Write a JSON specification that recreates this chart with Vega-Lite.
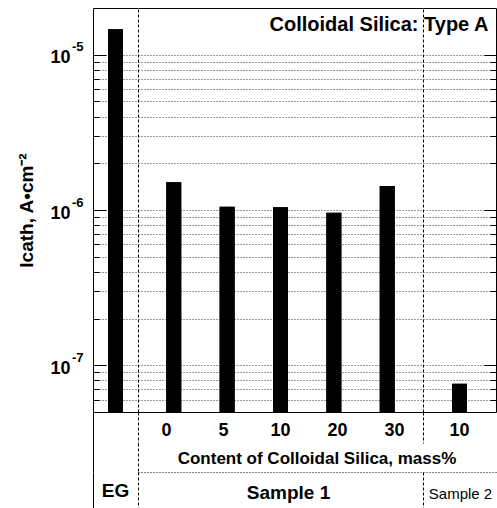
{
  "$schema": "https://vega.github.io/schema/vega-lite/v6.json",
  "padding": {"left": 17, "top": 8, "right": 1, "bottom": 0},
  "config": {
    "view": {"stroke": null},
    "font": "Liberation Sans",
    "text": {"font": "Liberation Sans"},
    "axis": {"labelFont": "Liberation Sans", "titleFont": "Liberation Sans", "minExtent": 0},
    "title": {"font": "Liberation Sans"}
  },
  "datasets": {
    "bars": [
      {"group": "EG", "content": "", "value": 1.46e-5},
      {"group": "Sample 1", "content": "0", "value": 1.51e-6},
      {"group": "Sample 1", "content": "5", "value": 1.05e-6},
      {"group": "Sample 1", "content": "10", "value": 1.04e-6},
      {"group": "Sample 1", "content": "20", "value": 0.96e-6},
      {"group": "Sample 1", "content": "30", "value": 1.43e-6},
      {"group": "Sample 2", "content": "10", "value": 7.6e-8}
    ],
    "labels": [
      {"cell": "EG", "text": "EG"},
      {"cell": "Sample 1", "text": "Sample 1"},
      {"cell": "Sample 2", "text": "Sample 2"},
      {"cell": "content", "text": "Content of Colloidal Silica, mass%"}
    ]
  },
  "hconcat": [
    {
      "vconcat": [
        {
          "width": 45,
          "height": 404,
          "data": {"name": "bars"},
          "transform": [{"filter": "datum.group === 'EG'"}],
          "layer": [
            {
              "mark": {"type": "bar", "color": "black", "width": 15},
              "encoding": {
                "x": {"field": "content", "type": "nominal", "sort": null,
                  "axis": {"orient": "bottom", "labels": false, "ticks": false, "title": null, "domainColor": "black", "grid": false}},
                "y": {"field": "value", "type": "quantitative",
                  "scale": {"type": "log", "domain": [5e-8, 2e-5], "nice": false},
                  "axis": {
                    "orient": "left",
                    "values": [6e-8, 7e-8, 8e-8, 9e-8, 1e-7, 2e-7, 3e-7, 4e-7, 5e-7, 6e-7, 7e-7, 8e-7, 9e-7, 1e-6, 2e-6, 3e-6, 4e-6, 5e-6, 6e-6, 7e-6, 8e-6, 9e-6, 1e-5],
                    "labelExpr": "abs(log(datum.value)/LN10 - round(log(datum.value)/LN10)) < 0.01 ? '10' : ''",
                    "labelOverlap": false,
                    "labelFontSize": 18,
                    "labelFontWeight": "bold",
                    "labelColor": "black",
                    "labelPadding": 36,
                    "labelOffset": 3,
                    "tickColor": "black",
                    "tickSize": {"condition": {"test": "abs(log(datum.value)/LN10 - round(log(datum.value)/LN10)) < 0.01", "value": -13}, "value": -6},
                    "domainColor": "black",
                    "grid": true,
                    "gridColor": "black",
                    "gridDash": [1, 2],
                    "gridOpacity": 0.8,
                    "title": "Icath, A•cm⁻²",
                    "titleFontSize": 19,
                    "titleFontWeight": "bold",
                    "titleColor": "black",
                    "titlePadding": 13
                  }},
                "y2": {"datum": 5e-8}
              }
            },
            {
              "mark": {"type": "bar", "color": "black", "width": 15},
              "encoding": {
                "x": {"field": "content", "type": "nominal", "sort": null,
                  "axis": {"orient": "top", "labels": false, "ticks": false, "title": null, "domainColor": "black", "grid": false}},
                "y": {"field": "value", "type": "quantitative",
                  "axis": {
                    "orient": "left",
                    "values": [1e-7, 1e-6, 1e-5],
                    "labelExpr": "'-' + (-round(log(datum.value)/LN10))",
                    "labelOverlap": false,
                    "labelFontSize": 13,
                    "labelFontWeight": "bold",
                    "labelColor": "black",
                    "labelPadding": 10,
                    "labelOffset": -8,
                    "ticks": false,
                    "domain": false,
                    "grid": false,
                    "title": null
                  }},
                "y2": {"datum": 5e-8}
              }
            }
          ],
          "resolve": {"axis": {"x": "independent", "y": "independent"}}
        },
        {
          "width": 45,
          "height": 60,
          "data": {"name": "bars"},
          "transform": [{"filter": "datum.group === 'EG'"}],
          "mark": {"type": "text", "fontSize": 18, "fontWeight": "bold", "color": "black"},
          "encoding": {
            "text": {"field": "content"},
            "y": {"field": "group", "type": "nominal",
              "axis": {"orient": "left", "labels": false, "ticks": false, "title": null, "domainColor": "black", "grid": false}}
          }
        },
        {
          "width": 45,
          "height": 36,
          "data": {"name": "labels"},
          "transform": [{"filter": "datum.cell === 'EG'"}],
          "mark": {"type": "text", "fontSize": 19, "fontWeight": "bold", "color": "black", "dy": 1},
          "encoding": {
            "text": {"field": "text"},
            "y": {"field": "text", "type": "nominal",
              "axis": {"orient": "left", "labels": false, "ticks": false, "title": null, "domainColor": "black", "grid": false}}
          }
        }
      ],
      "spacing": 0,
      "bounds": "flush"
    },
    {
      "vconcat": [
        {
          "hconcat": [
            {
              "width": 285,
              "height": 404,
              "data": {"name": "bars"},
              "transform": [{"filter": "datum.group === 'Sample 1'"}],
              "layer": [
                {
                  "mark": {"type": "bar", "color": "black", "width": 15},
                  "encoding": {
                    "x": {"field": "content", "type": "nominal", "sort": null,
                      "scale": {"paddingInner": 0.5, "paddingOuter": 0.42},
                      "axis": {"orient": "bottom", "labels": false, "ticks": false, "title": null, "domainColor": "black", "grid": false}},
                    "y": {"field": "value", "type": "quantitative",
                      "scale": {"type": "log", "domain": [5e-8, 2e-5], "nice": false},
                      "axis": {
                        "orient": "left",
                        "values": [6e-8, 7e-8, 8e-8, 9e-8, 1e-7, 2e-7, 3e-7, 4e-7, 5e-7, 6e-7, 7e-7, 8e-7, 9e-7, 1e-6, 2e-6, 3e-6, 4e-6, 5e-6, 6e-6, 7e-6, 8e-6, 9e-6, 1e-5],
                        "labels": false, "ticks": false, "title": null,
                        "domainColor": "black", "domainDash": [3, 2],
                        "grid": true, "gridColor": "black", "gridDash": [1, 2], "gridOpacity": 0.8
                      }},
                    "y2": {"datum": 5e-8}
                  }
                },
                {
                  "mark": {"type": "bar", "color": "black", "width": 15},
                  "encoding": {
                    "x": {"field": "content", "type": "nominal", "sort": null,
                      "axis": {"orient": "top", "labels": false, "ticks": false, "title": null, "domainColor": "black", "grid": false}},
                    "y": {"field": "value", "type": "quantitative", "axis": null},
                    "y2": {"datum": 5e-8}
                  }
                }
              ],
              "resolve": {"axis": {"x": "independent", "y": "independent"}}
            },
            {
              "width": 73,
              "height": 404,
              "data": {"name": "bars"},
              "transform": [{"filter": "datum.group === 'Sample 2'"}],
              "title": {"text": "Colloidal Silica: Type A", "anchor": "end", "orient": "top", "offset": -43, "dx": -8, "baseline": "alphabetic", "fontSize": 20, "fontWeight": "bold", "color": "black"},
              "layer": [
                {
                  "mark": {"type": "bar", "color": "black", "width": 15},
                  "encoding": {
                    "x": {"field": "content", "type": "nominal", "sort": null,
                      "axis": {"orient": "bottom", "labels": false, "ticks": false, "title": null, "domainColor": "black", "grid": false}},
                    "y": {"field": "value", "type": "quantitative",
                      "scale": {"type": "log", "domain": [5e-8, 2e-5], "nice": false},
                      "axis": {
                        "orient": "left",
                        "values": [6e-8, 7e-8, 8e-8, 9e-8, 1e-7, 2e-7, 3e-7, 4e-7, 5e-7, 6e-7, 7e-7, 8e-7, 9e-7, 1e-6, 2e-6, 3e-6, 4e-6, 5e-6, 6e-6, 7e-6, 8e-6, 9e-6, 1e-5],
                        "labels": false, "ticks": false, "title": null,
                        "domainColor": "black", "domainDash": [3, 2],
                        "grid": true, "gridColor": "black", "gridDash": [1, 2], "gridOpacity": 0.8
                      }},
                    "y2": {"datum": 5e-8}
                  }
                },
                {
                  "mark": {"type": "bar", "color": "black", "width": 15},
                  "encoding": {
                    "x": {"field": "content", "type": "nominal", "sort": null,
                      "axis": {"orient": "top", "labels": false, "ticks": false, "title": null, "domainColor": "black", "grid": false}},
                    "y": {"field": "value", "type": "quantitative",
                      "axis": {
                        "orient": "right",
                        "values": [6e-8, 7e-8, 8e-8, 9e-8, 1e-7, 2e-7, 3e-7, 4e-7, 5e-7, 6e-7, 7e-7, 8e-7, 9e-7, 1e-6, 2e-6, 3e-6, 4e-6, 5e-6, 6e-6, 7e-6, 8e-6, 9e-6, 1e-5],
                        "labels": false, "title": null, "grid": false,
                        "tickColor": "black",
                        "tickSize": {"condition": {"test": "abs(log(datum.value)/LN10 - round(log(datum.value)/LN10)) < 0.01", "value": -12}, "value": -6},
                        "domainColor": "black"
                      }},
                    "y2": {"datum": 5e-8}
                  }
                }
              ],
              "resolve": {"axis": {"x": "independent", "y": "independent"}}
            }
          ],
          "spacing": 0,
          "bounds": "flush"
        },
        {
          "hconcat": [
            {
              "width": 285,
              "height": 31,
              "data": {"name": "bars"},
              "transform": [{"filter": "datum.group === 'Sample 1'"}],
              "mark": {"type": "text", "fontSize": 18, "fontWeight": "bold", "color": "black", "dy": 3},
              "encoding": {
                "text": {"field": "content"},
                "x": {"field": "content", "type": "nominal", "sort": null,
                  "scale": {"paddingInner": 0.5, "paddingOuter": 0.42}, "axis": null},
                "y": {"field": "group", "type": "nominal",
                  "axis": {"orient": "left", "labels": false, "ticks": false, "title": null, "domainColor": "black", "domainDash": [3, 2], "grid": false}}
              }
            },
            {
              "width": 73,
              "height": 31,
              "data": {"name": "bars"},
              "transform": [{"filter": "datum.group === 'Sample 2'"}],
              "mark": {"type": "text", "fontSize": 18, "fontWeight": "bold", "color": "black", "dy": 3},
              "encoding": {
                "text": {"field": "content"},
                "x": {"field": "content", "type": "nominal", "sort": null, "axis": null},
                "y": {"field": "group", "type": "nominal",
                  "axis": {"orient": "left", "labels": false, "ticks": false, "title": null, "domainColor": "black", "domainDash": [3, 2], "grid": false}}
              }
            }
          ],
          "spacing": 0,
          "bounds": "flush"
        },
        {
          "width": 358,
          "height": 29,
          "data": {"name": "labels"},
          "transform": [{"filter": "datum.cell === 'content'"}],
          "mark": {"type": "text", "fontSize": 17, "fontWeight": "bold", "color": "black", "dy": 1},
          "encoding": {
            "text": {"field": "text"},
            "y": {"field": "text", "type": "nominal",
              "axis": {"orient": "left", "labels": false, "ticks": false, "title": null, "domainColor": "black", "domainDash": [3, 2], "grid": false}}
          }
        },
        {
          "hconcat": [
            {
              "width": 285,
              "height": 36,
              "data": {"name": "labels"},
              "transform": [{"filter": "datum.cell === 'Sample 1'"}],
              "mark": {"type": "text", "fontSize": 19, "fontWeight": "bold", "color": "black", "dx": 8, "dy": 3},
              "encoding": {
                "text": {"field": "text"},
                "x": {"field": "text", "type": "nominal",
                  "axis": {"orient": "top", "labels": false, "ticks": false, "title": null, "domainColor": "black", "domainDash": [1, 2], "grid": false}},
                "y": {"field": "text", "type": "nominal",
                  "axis": {"orient": "left", "labels": false, "ticks": false, "title": null, "domainColor": "black", "domainDash": [3, 2], "grid": false}}
              }
            },
            {
              "width": 73,
              "height": 36,
              "data": {"name": "labels"},
              "transform": [{"filter": "datum.cell === 'Sample 2'"}],
              "mark": {"type": "text", "fontSize": 15, "color": "black", "dx": 1, "dy": 4},
              "encoding": {
                "text": {"field": "text"},
                "x": {"field": "text", "type": "nominal",
                  "axis": {"orient": "top", "labels": false, "ticks": false, "title": null, "domainColor": "black", "domainDash": [1, 2], "grid": false}},
                "y": {"field": "text", "type": "nominal",
                  "axis": {"orient": "left", "labels": false, "ticks": false, "title": null, "domainColor": "black", "domainDash": [3, 2], "grid": false}}
              }
            }
          ],
          "spacing": 0,
          "bounds": "flush"
        }
      ],
      "spacing": 0
    }
  ],
  "spacing": 0
}
